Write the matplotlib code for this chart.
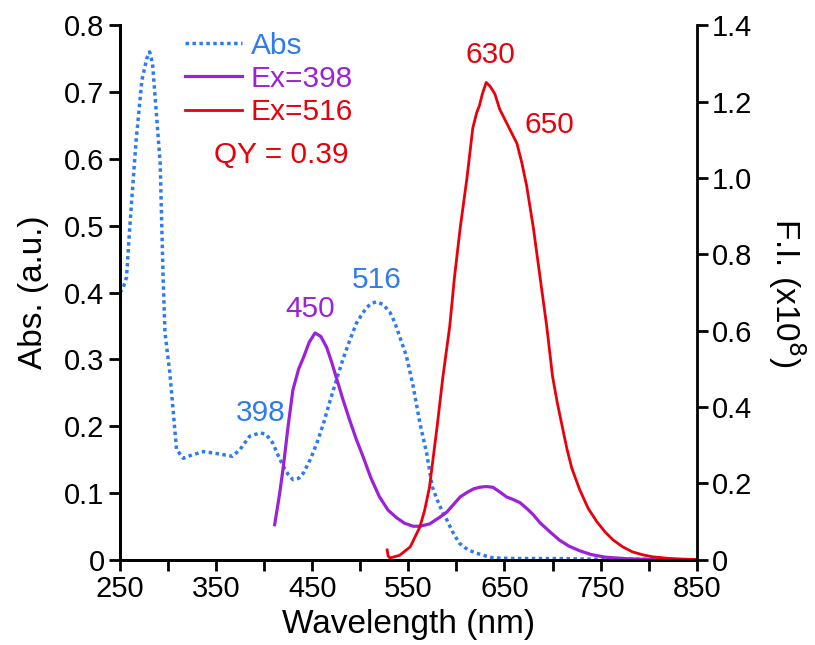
import matplotlib
matplotlib.use('Agg')
from matplotlib import pyplot as plt
from matplotlib.ticker import FuncFormatter

plt.rcParams['font.family'] = ['Liberation Sans', 'DejaVu Sans']

# absorption spectrum (left axis)
abs_nm = [250, 253, 257, 260, 264, 267, 273, 278, 281, 284, 288, 292, 295, 297, 302, 309,
          316, 325, 337, 351, 367, 375, 385, 396, 402, 409, 415, 420, 425, 430, 436, 441,
          448, 455, 462, 468, 475, 482, 489, 496, 502, 507, 512, 517, 524, 531, 536, 541,
          548, 555, 562, 569, 575, 580, 586, 590, 596, 603, 612, 621, 630, 638, 660, 700,
          750, 800, 850]
abs_val = [0.40, 0.405, 0.423, 0.49, 0.57, 0.628, 0.718, 0.75, 0.76, 0.743, 0.668, 0.593,
           0.423, 0.34, 0.28, 0.165, 0.152, 0.157, 0.162, 0.159, 0.155, 0.165, 0.185, 0.19,
           0.188, 0.175, 0.155, 0.14, 0.128, 0.12, 0.122, 0.13, 0.15, 0.175, 0.205, 0.235,
           0.268, 0.30, 0.328, 0.354, 0.368, 0.378, 0.384, 0.386, 0.382, 0.37, 0.355, 0.334,
           0.305, 0.26, 0.205, 0.16, 0.109, 0.09, 0.07, 0.06, 0.042, 0.025, 0.015, 0.010,
           0.006, 0.003, 0.002, 0.002, 0.001, 0.001, 0.0]

# emission, Ex = 398 (right axis, x1e8)
ex398_nm = [411, 416, 420, 425, 430, 436, 441, 447, 453, 459, 465, 470, 476, 482, 489, 496,
            503, 511, 520, 529, 538, 546, 555, 562, 572, 583, 590, 597, 604, 612, 618, 624,
            631, 638, 645, 652, 659, 666, 673, 680, 687, 697, 707, 717, 728, 740, 755, 777,
            800, 810]
ex398_val = [0.092, 0.17, 0.243, 0.35, 0.445, 0.50, 0.53, 0.57, 0.594, 0.585, 0.557, 0.52,
             0.47, 0.42, 0.366, 0.315, 0.27, 0.215, 0.165, 0.13, 0.11, 0.096, 0.088, 0.088,
             0.094, 0.112, 0.125, 0.145, 0.165, 0.178, 0.186, 0.19, 0.192, 0.19, 0.178, 0.165,
             0.158, 0.15, 0.135, 0.118, 0.097, 0.074, 0.052, 0.036, 0.024, 0.014, 0.007, 0.003,
             0.001, 0.0]

# emission, Ex = 516 (right axis, x1e8)
ex516_nm = [528, 529, 531, 541, 552, 562, 567, 572, 576, 580, 586, 593, 598, 604, 611, 617,
            621, 624, 627, 631, 635, 640, 645, 650, 655, 659, 663, 668, 673, 680, 687, 694,
            700, 705, 710, 715, 720, 728, 737, 746, 755, 763, 773, 783, 794, 804, 820, 835,
            850]
ex516_val = [0.026, 0.01, 0.005, 0.012, 0.034, 0.086, 0.13, 0.19, 0.27, 0.35, 0.48, 0.61,
             0.74, 0.87, 1.00, 1.13, 1.17, 1.19, 1.22, 1.25, 1.24, 1.22, 1.18, 1.155, 1.13,
             1.11, 1.09, 1.04, 0.98, 0.87, 0.74, 0.61, 0.48, 0.41, 0.35, 0.29, 0.24, 0.185,
             0.135, 0.1, 0.072, 0.052, 0.034, 0.021, 0.013, 0.008, 0.004, 0.002, 0.001]

blue = '#2e7bf0'
purple = '#9b22d6'
red = '#e8000b'

fig = plt.figure(figsize=(8.15, 6.45), dpi=100)
ax = fig.add_axes([0.147, 0.132, 0.708, 0.829])
ax2 = ax.twinx()

l1, = ax.plot(abs_nm, abs_val, color=blue, lw=2.5, linestyle=(0, (1, 1)), label='Abs')
l2, = ax2.plot(ex398_nm, ex398_val, color=purple, lw=2.3, label='Ex=398')
l3, = ax2.plot(ex516_nm, ex516_val, color=red, lw=2, label='Ex=516')

ax.set_xlim(250, 850)
ax.set_ylim(0, 0.8)
ax2.set_ylim(0, 1.4)

ax.set_xticks(range(250, 851, 100))
ax.set_xticks(range(300, 801, 100), minor=True)
ax.set_yticks([i / 10 for i in range(9)])
ax2.set_yticks([i / 5 for i in range(8)])

fmt1 = FuncFormatter(lambda v, p: '0' if v == 0 else '%.1f' % v)
ax.yaxis.set_major_formatter(fmt1)
ax2.yaxis.set_major_formatter(fmt1)

for a in (ax, ax2):
    a.spines['top'].set_visible(False)
    for s in a.spines.values():
        s.set_linewidth(2)
    a.tick_params(which='both', direction='out', length=8, width=2, labelsize=21, pad=3)
ax.spines['right'].set_visible(False)

ax.set_xlabel('Wavelength (nm)', fontsize=24, labelpad=4)
ax.set_ylabel('Abs. (a.u.)', fontsize=24, labelpad=11)
ax2.set_ylabel('F.I. (x10$^8$)', fontsize=24, rotation=270, labelpad=40)

leg = ax.legend(handles=[l1, l2, l3], loc='upper left', bbox_to_anchor=(0.113, 0.988),
                frameon=False, fontsize=21.5, labelcolor='linecolor', handlelength=1.9,
                handletextpad=0.3, labelspacing=0.18, borderaxespad=0, borderpad=0)

ax.text(418, 0.605, 'QY = 0.39', color=red, fontsize=21.5, ha='center', va='center')
ax.text(635, 0.755, '630', color=red, fontsize=21.5, ha='center', va='center')
ax.text(697, 0.65, '650', color=red, fontsize=21.5, ha='center', va='center')
ax.text(517, 0.418, '516', color=blue, fontsize=21.5, ha='center', va='center')
ax.text(448, 0.375, '450', color=purple, fontsize=21.5, ha='center', va='center')
ax.text(396, 0.22, '398', color=blue, fontsize=21.5, ha='center', va='center')

fig.savefig('out.png', dpi=100)
